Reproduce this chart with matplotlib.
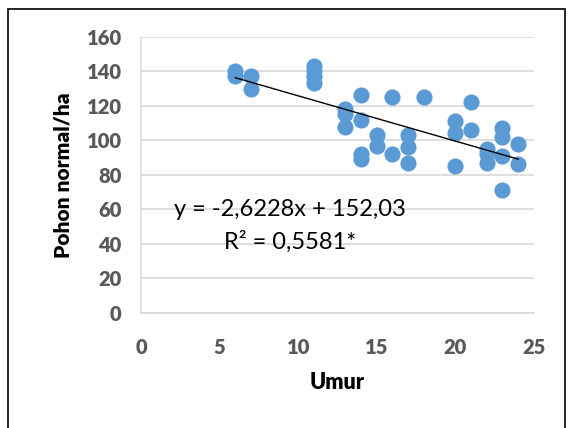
import matplotlib
matplotlib.use("Agg")
import matplotlib.pyplot as plt
from matplotlib.patches import Rectangle
import numpy as np

# data
umur = [6, 6, 7, 7, 11, 11, 11, 11, 13, 13, 13, 14, 14, 14, 14, 15, 15, 16, 16,
        17, 17, 17, 18, 20, 20, 20, 21, 21, 22, 22, 22, 23, 23, 23, 23, 24, 24]
pohon = [140, 137, 137, 130, 143, 140, 137, 133, 118, 115, 108, 126, 112, 92, 89,
         103, 97, 125, 92, 103, 96, 87, 125, 111, 104, 85, 122, 106, 95, 92, 87,
         107, 102, 91, 71, 98, 86]
slope, intercept = -2.6228, 152.03
eq_text = "y = -2,6228x + 152,03"
r2_text = "R² = 0,5581*"

plt.rcParams['font.family'] = ['Lato', 'DejaVu Sans']

fig = plt.figure(figsize=(5.71, 4.28), dpi=100)
ax = fig.add_axes([0.247, 0.269, 0.688, 0.645])

ax.scatter(umur, pohon, s=135, color='#5b9bd5', zorder=3, linewidths=0)
xs = np.array([min(umur), max(umur)])
ax.plot(xs, slope * xs + intercept, color='black', lw=1, zorder=4)

ax.set_xlim(0, 25)
ax.set_ylim(0, 160)
ax.set_xticks(range(0, 26, 5))
ax.set_yticks(range(0, 161, 20))
ax.grid(axis='y', color='#d9d9d9', lw=1.2, zorder=0)
ax.set_axisbelow(True)
for s in ['top', 'right']:
    ax.spines[s].set_visible(False)
for s in ['left', 'bottom']:
    ax.spines[s].set_color('#d9d9d9')
    ax.spines[s].set_linewidth(1.2)
ax.tick_params(length=0, labelsize=14.5, labelcolor='#595959')
ax.tick_params(axis='x', pad=18)
ax.tick_params(axis='y', pad=14)
for lab in ax.get_xticklabels() + ax.get_yticklabels():
    lab.set_fontweight('heavy')

ax.set_xlabel('Umur', fontsize=15.5, fontweight='heavy', labelpad=11)
ax.set_ylabel('Pohon normal/ha', fontsize=15, fontweight='heavy', labelpad=10)

ax.text(9.5, 59.7, eq_text, fontsize=17, ha='center', va='center')
ax.text(9.5, 41, r2_text, fontsize=17, ha='center', va='center')

fig.patches.append(Rectangle((0.014, -0.01), 0.975, 0.99, transform=fig.transFigure,
                             fill=False, edgecolor='black', lw=1.2))

fig.savefig('out.png', dpi=100)
